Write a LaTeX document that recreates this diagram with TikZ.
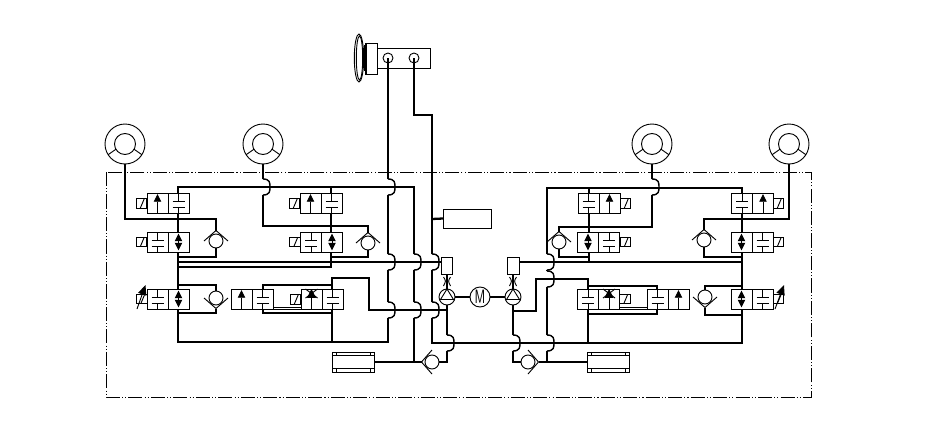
\documentclass[tikz,border=0pt]{standalone}
\usepackage{xcolor}
\usetikzlibrary{calc,backgrounds,arrows.meta}

\tikzset{
    thinline/.style={black, line width=0.52pt},
    pipe/.style={black, line width=1.3pt},
    hopline/.style={black, line width=0.8pt},
    cellbox/.style={thinline, draw, fill=white, inner sep=0, outer sep=0, minimum width=0.42cm, minimum height=0.40cm},
    solbox/.style={thinline, draw, inner sep=0, outer sep=0, minimum width=0.21cm, minimum height=0.19cm},
    plainbox/.style={thinline, draw, inner sep=0, outer sep=0},
    wheelring/.style={thinline, draw, circle, inner sep=0, outer sep=0, minimum size=0.80cm},
    checkring/.style={thinline, draw, circle, inner sep=0, outer sep=0, minimum size=0.28cm},
    pumpring/.style={thinline, draw, circle, inner sep=0, outer sep=0, minimum size=0.32cm},
    headup/.style={-{Triangle[width=4.2pt,length=4.4pt]}},
    headboth/.style={{Triangle[width=4.2pt,length=4.4pt]}-{Triangle[width=4.2pt,length=4.4pt]}}
}

% crossing of a vertical pipe over a horizontal one
\newcommand{\hop}[2]{-- (#1,#2-8) edge[hopline, to path={.. controls (#1+7,#2-8) and (#1+7,#2-4) .. (#1+7,#2) .. controls (#1+7,#2+4) and (#1+7,#2+8) .. (#1,#2+8)}] (#1,#2+8) (#1,#2+8)}

\newcommand{\wheel}[2]{
    \node[wheelring] (#1) at (#2) {};
    \draw[thinline] (#2) circle (10.5);
    \draw[thinline] (#2) ++(30:10.5) -- ++(35:9.5);
    \draw[thinline] (#2) ++(150:10.5) -- ++(145:9.5);
}
% name, centre, direction of the apex (y runs downward: 90 is down, -90 up)
\newcommand{\checkv}[3]{
    \node[checkring] (#1) at (#2) {};
    \coordinate (#1-in) at ($(#2)+(#3:10.5)$);
    \draw[thinline] ($(#2)+(#3+90:12)$) -- (#1-in) -- ($(#2)+(#3-90:12)$);
}
\newcommand{\blockcell}[2]{
    \node[cellbox] (#1) at (#2) {};
    \draw[thinline] (#1.north) -- ++(0,8.5);
    \draw[thinline] (#1.south) -- ++(0,-5.5);
    \draw[thinline] ($(#2)+(-6,-1.5)$) -- ++(12,0);
    \draw[thinline] ($(#2)+(-6,4.5)$) -- ++(12,0);
}
\newcommand{\arrowcell}[2]{
    \node[cellbox] (#1) at (#2) {};
    \draw[thinline, headup] (#1.south) -- ++(0,-19);
}
\newcommand{\updowncell}[2]{
    \node[cellbox] (#1) at (#2) {};
    \draw[thinline, headboth] ($(#1.north)+(0,1.5)$) -- ($(#1.south)+(0,-1.5)$);
}
\newcommand{\throttlecell}[2]{
    \node[cellbox] (#1) at (#2) {};
    \draw[thinline] (#1.north) -- (#1.south);
    \draw[thinline] ($(#2)+(-6,-10)$) -- ++(12,9);
    \draw[thinline] ($(#2)+(6,-10)$) -- ++(-12,9);
    \draw[thinline, -{Triangle[width=5pt,length=5pt]}] ($(#2)+(0,-2)$) -- ++(0,-8);
}
% name, left edge, height of the centre, kinds of the two cells
\newcommand{\valve}[5]{
    \csname #4cell\endcsname{#1a}{#2+10.5,#3}
    \csname #5cell\endcsname{#1b}{#2+31.5,#3}
}
\newcommand{\solenoid}[2]{
    \node[solbox] (#1) at (#2) {};
    \draw[thinline] ($(#1.south west)+(4,0)$) -- ($(#1.north west)+(8,0)$);
}
\newcommand{\cooler}[2]{
    \node[plainbox, minimum width=0.84cm, minimum height=0.40cm] (#1) at (#2) {};
    \draw[thinline] ($(#1.north west)+(0,3.5)$) -- ($(#1.north east)+(0,3.5)$);
    \draw[thinline] ($(#1.south west)+(0,-3.5)$) -- ($(#1.south east)+(0,-3.5)$);
    \draw[thinline] ($(#1.north west)+(4,0)$) -- ++(0,3.5);
    \draw[thinline] ($(#1.north east)+(-4,0)$) -- ++(0,3.5);
    \draw[thinline] ($(#1.south west)+(4,0)$) -- ++(0,-3.5);
    \draw[thinline] ($(#1.south east)+(-4,0)$) -- ++(0,-3.5);
}
\newcommand{\pump}[2]{
    \node[pumpring] (#1) at (#2) {};
    \draw[thinline] ($(#2)+(0,-8)$) -- ($(#2)+(-6.5,2.5)$) -- ($(#2)+(6.5,2.5)$) -- cycle;
}

\begin{document}
\begin{tikzpicture}[x=0.02cm, y=-0.02cm]
    \useasboundingbox (0,0) rectangle (950,447);

    \draw[thinline, dash pattern=on 8pt off 1.2pt on 0.6pt off 1.2pt on 0.6pt off 1.2pt] (106,172) rectangle (811,397); % control unit

    % brake pedal and master cylinder
    \draw[thinline] (359,58) ellipse (4.7 and 24);
    \draw[thinline] (359.5,58) ellipse (3.2 and 22);
    \draw[thinline] (364,45) -- (364,71);
    \draw[thinline] (366.5,43) -- (366.5,74);
    \node[plainbox, minimum width=0.24cm, minimum height=0.62cm] (pedalBlock) at (371,58.5) {};
    \node[plainbox, minimum width=1.06cm, minimum height=0.40cm] (cylBox) at (403.5,58) {};
    \node[plainbox, circle, minimum size=0.20cm] (portA) at (388,58) {};
    \node[plainbox, circle, minimum size=0.20cm] (portB) at (414,58) {};

    \wheel{wheelA}{125,144}
    \wheel{wheelB}{263,144}
    \wheel{wheelC}{652,144}
    \wheel{wheelD}{789,144}

    \node[plainbox, minimum width=0.96cm, minimum height=0.38cm] (ecuBox) at (467,218.5) {};

    % left valves
    \valve{vA}{147}{203}{arrow}{block}   \solenoid{sA}{141.5,203.5}
    \valve{vB}{147}{242}{block}{updown}  \solenoid{sB}{141.5,242}
    \valve{vC}{147}{299}{block}{updown}  \solenoid{sC}{142,299}
    \valve{vD}{231}{299}{arrow}{block}
    \valve{vE}{301}{299}{throttle}{block} \solenoid{sE}{295.5,299.5}
    \valve{vF}{300}{203}{arrow}{block}   \solenoid{sF}{294.5,203.5}
    \valve{vG}{300.5}{242}{block}{updown} \solenoid{sG}{295,242}

    % right valves
    \valve{vH}{578}{203}{block}{arrow}   \solenoid{sH}{625.5,203.5}
    \valve{vI}{577.5}{242}{updown}{block} \solenoid{sI}{625.5,242}
    \valve{vJ}{731.5}{203}{block}{arrow} \solenoid{sJ}{778.5,203.5}
    \valve{vK}{731}{242}{updown}{block}  \solenoid{sK}{778.5,242}
    \valve{vL}{577.5}{299}{block}{throttle} \solenoid{sL}{625,299}
    \valve{vM}{647}{299}{block}{arrow}
    \valve{vN}{731}{299}{updown}{block}  \solenoid{sN}{778.5,299}

    % variable solenoids
    \draw[thinline, -{Triangle[width=4.8pt,length=5.6pt]}] (137,309) -- (145.5,285);
    \draw[thinline, -{Triangle[width=4.8pt,length=5.6pt]}] (775,309) -- (784,285);

    \draw[thinline] (vDb.south east) -- (vEa.south west);
    \draw[thinline] ($(vDb.south east)+(0,-2)$) -- ($(vEa.south west)+(0,-2)$);
    \draw[thinline] (vLb.south east) -- (vMa.south west);
    \draw[thinline] ($(vLb.south east)+(0,-2)$) -- ($(vMa.south west)+(0,-2)$);

    \checkv{chkA}{216,241}{-90}
    \checkv{chkB}{368,243}{-90}
    \checkv{chkC}{216,298}{90}
    \checkv{chkD}{559,242}{-90}
    \checkv{chkE}{704,240}{-90}
    \checkv{chkF}{705,297}{90}
    \checkv{chkG}{432,362}{180}
    \checkv{chkH}{528,362}{0}

    \cooler{coolL}{353,362}
    \cooler{coolR}{608,362}

    % pumps and motor
    \pump{pumpL}{447,297}
    \pump{pumpR}{513,297}
    \node[thinline, draw, circle, inner sep=0, outer sep=0, minimum size=0.40cm] (motor) at (480,297) {\sffamily\fontsize{11}{11}\selectfont\scalebox{0.65}[1]{M}};
    \node[plainbox, minimum width=0.22cm, minimum height=0.34cm] (sensL) at (446.5,265.5) {};
    \node[plainbox, minimum width=0.24cm, minimum height=0.34cm] (sensR) at (513,265.5) {};
    \draw[thinline] (443.5,277) .. controls (446,281) .. (443.5,286);
    \draw[thinline] (450.5,277) .. controls (448,281) .. (450.5,286);
    \draw[thinline] (509.5,277) .. controls (512,281) .. (509.5,286);
    \draw[thinline] (516.5,277) .. controls (514,281) .. (516.5,286);

    \begin{scope}[on background layer]
        \draw[pipe] (portA.center) \hop{388}{187} \hop{388}{262} \hop{388}{310} -- (388,342) -- (178,342) -- (178,187) -- (414,187) \hop{414}{262} \hop{414}{310} -- (414,362);
        \draw[pipe] (coolL.east) -- (chkG-in);
        \draw[pipe] (portB.center) -- (414,115) -- (432,115) \hop{432}{262} \hop{432}{310} -- (432,343) -- (742,343) -- (742,188) -- (547,188) \hop{547}{262} \hop{547}{279} \hop{547}{343} -- (547,362);
        \draw[pipe] (432,219) -- (ecuBox.west);

        \draw[pipe] (178,262) -- (sensL.west |- 178,262);
        \draw[pipe] (178,267) -- (331,267) -- (331,187);
        \draw[pipe] (sensR.east |- 742,262) -- (742,262);

        % wheel lines, left side
        \draw[pipe] (wheelA.south) -- (125,219) -- (216,219) -- (chkA-in);
        \draw[pipe] (chkA.south) -- (216,257) -- (178,257);
        \draw[pipe] (wheelB.south) \hop{263}{187} -- (263,226) -- (368,226) -- (chkB-in);
        \draw[pipe] (chkB.south) -- (368,257) -- (331,257);
        \draw[pipe] (178,285) -- (216,285) -- (chkC.north);
        \draw[pipe] (chkC-in) -- (216,313) -- (178,313);
        \draw[pipe] (332,342) -- (332,278) -- (369,278) -- (369,310) -- (447,310);
        \draw[pipe] (332,285) -- (263,285) -- (263,313) -- (332,313);

        % wheel lines, right side
        \draw[pipe] (wheelC.south) \hop{652}{187} -- (652,227) -- (559,227) -- (chkD-in);
        \draw[pipe] (chkD.south) -- (559,257) -- (589,257);
        \draw[pipe] (589,188) -- (589,262);
        \draw[pipe] (wheelD.south) -- (789,219) -- (704,219) -- (chkE-in);
        \draw[pipe] (chkE.south) -- (704,257) -- (742,257);
        \draw[pipe] (742,286) -- (705,286) -- (chkF.north);
        \draw[pipe] (chkF-in) -- (705,315) -- (742,315);
        \draw[pipe] (513,311) -- (536,311) -- (536,279) -- (588,279) -- (588,343);
        \draw[pipe] (588,286) -- (657,286) -- (657,314) -- (588,314);

        % pump lines
        \draw[pipe] (sensL.south -| pumpL) -- (pumpL.north);
        \draw[pipe] (sensR.south) -- (pumpR.north);
        \draw[pipe] (pumpL.east) -- (motor.west);
        \draw[pipe] (motor.east) -- (pumpR.west);
        \draw[pipe] (pumpL.south) \hop{447}{343} -- (447,362) -- (chkG.east);
        \draw[pipe] (pumpR.south) \hop{513}{343} -- (513,362) -- (chkH.west);
        \draw[pipe] (chkH-in) -- (coolR.west);
    \end{scope}
\end{tikzpicture}
\end{document}
